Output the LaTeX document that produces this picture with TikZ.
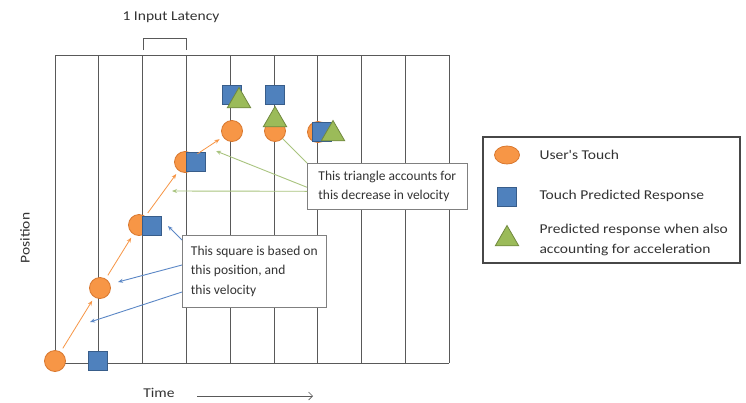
\documentclass[tikz,border=0pt]{standalone}
\usepackage{fontspec}
\setmainfont{Carlito}
\newfontfamily\widefont[FakeStretch=1.15]{Carlito}
\usetikzlibrary{arrows.meta,shapes.geometric}

\definecolor{touchfill}{HTML}{F79646}
\definecolor{touchedge}{HTML}{D9782F}
\definecolor{predfill}{HTML}{4F81BD}
\definecolor{prededge}{HTML}{385D8A}
\definecolor{accfill}{HTML}{9BBB59}
\definecolor{accedge}{HTML}{71893F}
\definecolor{gridgray}{HTML}{595959}
\definecolor{greenline}{HTML}{A9C47F}
\definecolor{blueline}{HTML}{5B87C6}

\tikzset{
  touch/.style={circle,draw=touchedge,fill=touchfill,line width=0.8pt,minimum size=21pt,inner sep=0pt},
  pred/.style={rectangle,draw=prededge,fill=predfill,line width=0.8pt,minimum size=19pt,inner sep=0pt},
  accel/.style={regular polygon,regular polygon sides=3,draw=accedge,fill=accfill,line width=0.8pt,minimum size=27pt,inner sep=0pt},
  vel/.style={-{Stealth[length=5pt,width=4pt]},touchfill,line width=0.8pt,shorten <=4pt,shorten >=4pt},
  note/.style={draw=gray,line width=0.6pt,fill=white,align=left,anchor=north west,inner xsep=5pt,font=\fontsize{13.5}{19.5}\selectfont,text=black!80},
  greenarr/.style={-{Stealth[length=5pt,width=4pt]},greenline,line width=0.9pt},
  bluearr/.style={-{Stealth[length=5pt,width=4pt]},blueline,line width=0.9pt},
  lbl/.style={font=\widefont\fontsize{13.5}{20}\selectfont,text=black!80},
  keylbl/.style={font=\widefont\fontsize{13.5}{20}\selectfont,text=black!80,anchor=west,align=left}
}

\begin{document}
\begin{tikzpicture}[x=1pt,y=-1pt]
  \useasboundingbox[fill=white] (0,0) rectangle (746,402);
  % time grid
  \foreach \i in {0,...,9}
    \draw[gridgray,line width=1pt] (55+43.8*\i,55) -- (55+43.8*\i,363);
  \draw[gridgray,line width=1pt] (55,55) -- (449,55);
  \draw[gridgray,line width=1pt] (55,363) -- (449,363);
  % latency bracket
  \draw[gridgray,line width=0.8pt] (143,50) -- (143,38) -- (186,38) -- (186,50);
  \node[lbl] (lat) at (171,17) {1 Input Latency};
  % axis labels
  \node[lbl,rotate=90] (pos) at (25,238) {Position};
  \node[lbl] (time) at (159,393) {Time};
  \coordinate (tend) at (313,396);
  \draw[-{Straight Barb[length=4pt]},gridgray,line width=0.6pt] (197,396) -- (tend);

  % user's touch
  \node[touch] (c1) at (55,361) {};
  \node[touch] (c2) at (100,288) {};
  \node[touch] (c3) at (139,225) {};
  \node[touch] (c4) at (185,162) {};
  \node[touch] (c5) at (232,131) {};
  \node[touch] (c6) at (275,131) {};
  \node[touch] (c7) at (318,132) {};
  % predicted response
  \node[pred] (s1) at (98,361) {};
  \node[pred] (s2) at (152,226) {};
  \node[pred] (s3) at (196,162) {};
  \node[pred] (s4) at (232,95) {};
  \node[pred] (s5) at (275,95) {};
  \node[pred] (s6) at (322,132) {};
  % with acceleration
  \node[accel] (t1) at (239,101) {};
  \node[accel] (t2) at (275,120) {};
  \node[accel] (t3) at (333,134) {};

  % velocities
  \draw[vel] (c1) -- (c2);
  \draw[vel] (c2) -- (c3);
  \draw[vel] (c3) -- (c4);
  \draw[vel] (c4) -- (c5);

  % callouts
  \node[note,minimum width=160pt,minimum height=46pt] (note1) at (307,163) {This triangle accounts for\\this decrease in velocity};
  \node[note,minimum width=144pt,minimum height=72pt] (note2) at (182,235) {This square is based on\\this position, and\\this velocity};
  \coordinate (va) at (172,191);
  \coordinate (vb) at (216,151);
  \coordinate (pa) at (118,282);
  \coordinate (vc) at (90,322);
  \draw[greenline,line width=0.9pt] (note1.north west) -- (c6);
  \draw[greenarr] ([yshift=-1pt]note1.west) -- (vb);
  \draw[greenarr] ([yshift=-5pt]note1.west) -- (va);
  \draw[bluearr] ([yshift=-5pt]note2.north west) -- ([xshift=6pt]s2.east);
  \draw[bluearr] ([yshift=-30pt]note2.north west) -- (pa);
  \draw[bluearr] ([yshift=-57pt]note2.north west) -- (vc);

  % legend
  \draw[gridgray!80!black,line width=1.2pt] (483,137) rectangle (740,263);
  \node[touch,ellipse,minimum width=25pt,minimum height=18pt] (kc) at (507,155) {};
  \node[pred] (ks) at (507,197) {};
  \node[accel] (kt) at (507,239) {};
  \node[keylbl] (kct) at (536,155) {User's Touch};
  \node[keylbl] (kst) at (536,196) {Touch Predicted Response};
  \node[keylbl] (ktt) at (536,240) {Predicted response when also\\accounting for acceleration};
\end{tikzpicture}
\end{document}
